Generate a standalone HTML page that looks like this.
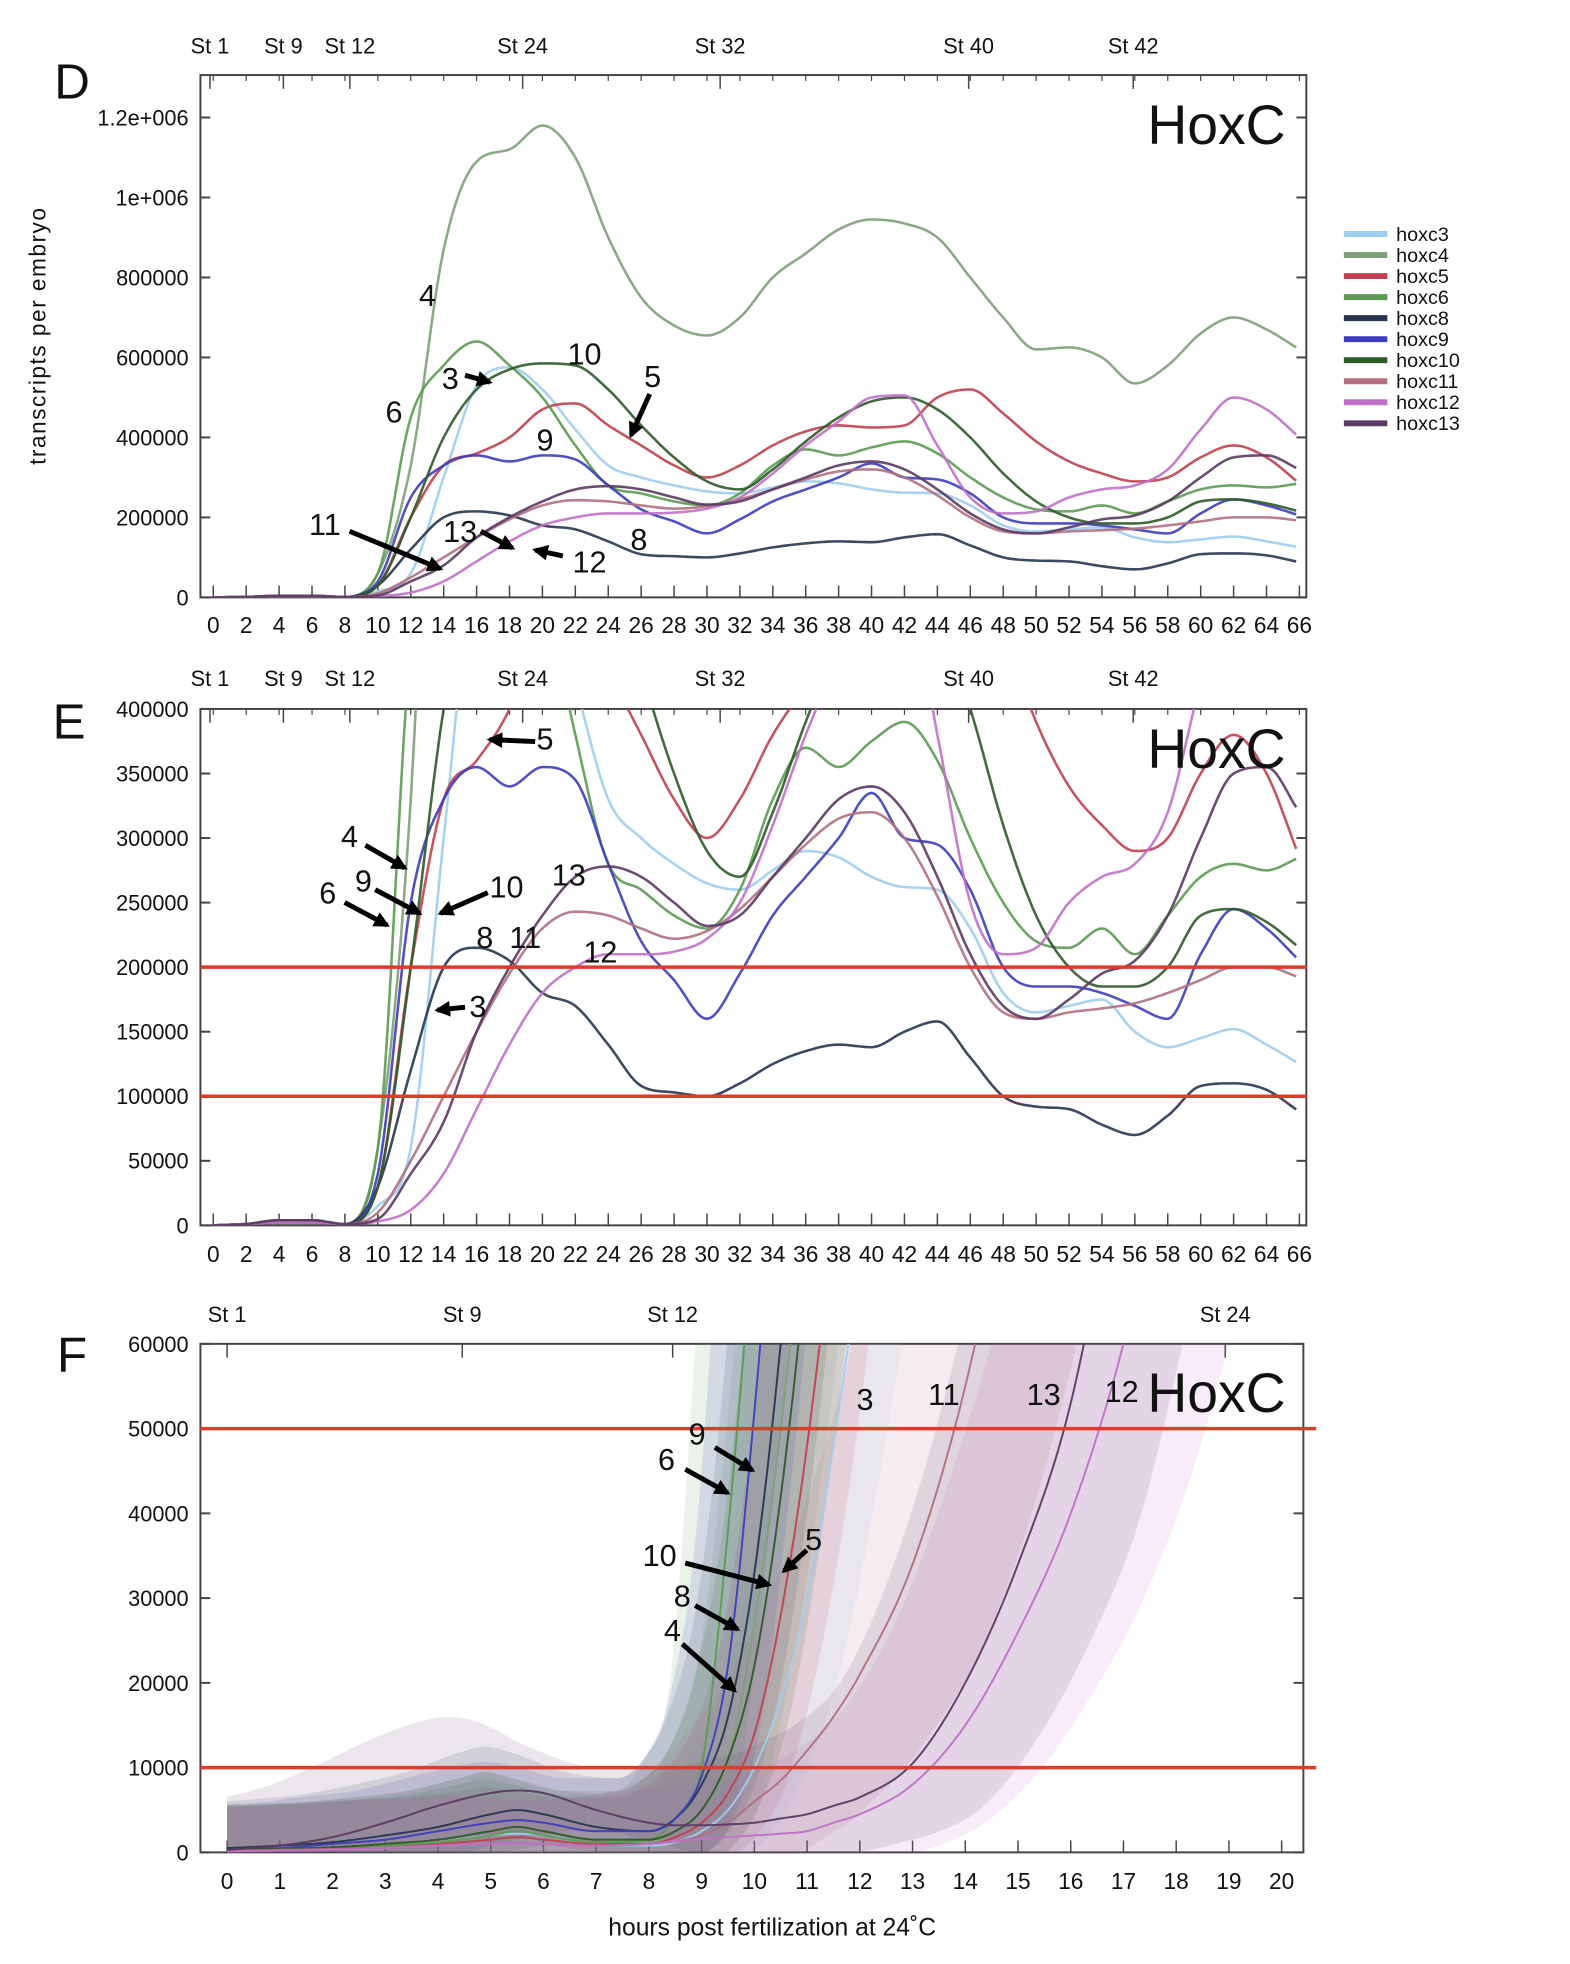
<!DOCTYPE html>
<html><head><meta charset="utf-8"><style>
html,body{margin:0;padding:0;background:#fff}
svg{display:block}
text{font-family:"Liberation Sans",sans-serif}
</style></head><body>
<svg id="fig" xmlns="http://www.w3.org/2000/svg" width="1570" height="1964" viewBox="0 0 1570 1964">
<defs>
<clipPath id="clipD"><rect x="203" y="76" width="1120" height="529"/></clipPath>
<clipPath id="clipE"><rect x="203" y="718" width="1120" height="523"/></clipPath>
<clipPath id="clipF"><rect x="203" y="1361" width="1117" height="515"/></clipPath>
<marker id="ah" viewBox="0 0 10 10" refX="8" refY="5" markerWidth="3.2" markerHeight="3.2" orient="auto"><path d="M0,0 L10,5 L0,10 z" fill="#000"/></marker>
</defs>
<g id="layer" transform="scale(0.9874)"></g>
</svg>
<script>
// ---------- data ----------
const seriesNames = ["hoxc3","hoxc4","hoxc5","hoxc6","hoxc8","hoxc9","hoxc10","hoxc11","hoxc12","hoxc13"];
const seriesColors = ["#9fcdee","#7fa07a","#c0404f","#5c9a52","#27364f","#3d3dbf","#2f5a2a","#b07080","#c070c8","#5a3a62"];
const hours = [0,2,4,6,8,10,12,14,16,18,20,22,24,26,28,30,32,34,36,38,40,42,44,46,48,50,52,54,56,58,60,62,64,66];
// transcripts per embryo (thousands)
const hoxc3  = [0,1,2,2,1,15,60,300,530,575,520,420,330,300,280,265,260,275,290,285,270,262,260,230,180,165,170,175,150,138,145,152,140,125];
const hoxc4  = [0,1,3,3,1,60,330,870,1090,1120,1180,1100,900,750,680,655,700,800,860,920,945,935,900,800,700,620,625,600,535,580,660,700,670,620];
const hoxc5  = [0,1,2,2,1,30,200,330,360,400,470,485,430,380,330,300,330,380,415,430,425,430,500,520,460,390,340,310,290,300,350,380,350,285];
const hoxc6  = [0,1,3,3,1,60,450,580,640,580,500,380,280,260,240,230,260,330,370,355,375,390,360,300,250,220,215,230,210,240,270,280,275,285];
const hoxc8  = [0,1,4,4,1,30,120,200,215,205,180,170,140,108,103,100,110,125,135,140,138,150,158,130,100,92,90,78,70,85,108,110,105,88];
const hoxc9  = [0,1,3,4,1,40,250,330,355,340,355,345,280,220,190,160,195,240,270,300,335,300,295,260,200,185,185,180,170,160,210,245,230,205];
const hoxc10 = [0,1,2,2,1,30,200,400,520,570,585,580,520,430,350,290,270,320,390,450,490,500,470,400,310,240,200,185,185,200,240,245,235,215];
const hoxc11 = [0,1,3,3,1,10,50,100,150,195,230,243,240,230,222,228,245,270,295,315,320,300,255,200,165,160,165,168,172,180,190,200,200,192];
const hoxc12 = [0,1,2,2,1,3,12,40,90,140,180,200,210,210,212,222,250,310,380,440,500,505,380,250,210,215,250,270,280,320,420,500,470,400];
const hoxc13 = [0,1,4,4,1,5,40,80,150,200,240,270,278,270,250,232,240,270,300,330,340,320,270,210,170,160,175,195,205,240,300,350,355,320];
const dSeries = [hoxc3,hoxc4,hoxc5,hoxc6,hoxc8,hoxc9,hoxc10,hoxc11,hoxc12,hoxc13];

const fHours = [0,1,2,3,4,5,5.5,6,7,8,8.5,9,9.5,10,10.5,11,11.5,12,13,14,15,16,17,18,19,20];
const f3  = [0.2,0.3,0.5,0.8,1.2,2,2.2,2,1,0.8,1.2,2.5,5,10,18,30,48,70,120,200,300,400,500,600,700,800];
const f4  = [0.3,0.4,0.6,1,1.5,2.5,3,2.5,1.5,1.2,2.5,5,11,27,50,80,120,160,250,350,450,550,650,750,850,950];
const f5  = [0.2,0.3,0.5,0.8,1,1.5,1.8,1.5,1,1,1.8,3.5,7,14,28,48,75,110,180,260,350,450,550,650,750,850];
const f6  = [0.5,0.5,0.6,0.8,1.2,2,2.5,2,1.2,1.5,4,10,38,75,120,170,220,270,370,470,570,670,770,870,970,1070];
const f8  = [0.5,0.8,1.2,2,3,4.5,5,4.5,3,2.5,4,8,16,33,60,95,135,175,275,375,475,575,675,775,875,975];
const f9  = [0.3,0.5,1,1.5,2.5,3.5,3.8,3.5,2.5,2.5,4,9,22,52,90,135,180,225,325,425,525,625,725,825,925,1025];
const f10 = [0.3,0.4,0.6,1,1.5,2.5,3,2.5,1.5,1.5,2.5,5,11,22,42,70,105,145,240,340,440,540,640,740,840,940];
const f11 = [0.2,0.3,0.4,0.5,0.8,1,1.1,1,0.8,1,1.3,2,3.5,6,8.5,12,16,21,34,55,85,120,160,200,240,280];
const f12 = [0.1,0.2,0.3,0.5,0.8,1,1.1,1,0.8,1,1.3,1.6,1.8,2,2.2,2.5,3.5,4.5,8,15,26,40,60,88,120,160];
const f13 = [0.3,0.8,1.8,3.5,5.5,7,7.3,7,5,3.5,3.2,3.2,3.3,3.5,4,4.5,5.5,6.5,10.5,20,34,53,85,120,160,200];
const fSeries = [f3,f4,f5,f6,f8,f9,f10,f11,f12,f13];

const dTicksY = ["0","200000","400000","600000","800000","1e+006","1.2e+006"];
const eTicksY = ["0","50000","100000","150000","200000","250000","300000","350000","400000"];
const fTicksY = ["0","10000","20000","30000","40000","50000","60000"];
const stagesDE = ["St 1","St 9","St 12","St 24","St 32","St 40","St 42"];
const stageHoursDE = [-0.2,4.26,8.3,18.8,30.8,45.9,55.9];
const stagesF = ["St 1","St 9","St 12","St 24"];
const stageHoursF = [0,4.46,8.45,18.93];
const eThresholds = [100,200];
const fThresholds = [10,50];

// ---------- helpers ----------
const NS="http://www.w3.org/2000/svg";
const layer=document.getElementById('layer');
function mk(tag,attrs,parent){const e=document.createElementNS(NS,tag);for(const k in attrs)e.setAttribute(k,attrs[k]);(parent||layer).appendChild(e);return e;}
function monotone(xs,ys){
  const n=xs.length,d=[],m=new Array(n);
  for(let i=0;i<n-1;i++)d.push((ys[i+1]-ys[i])/(xs[i+1]-xs[i]));
  m[0]=d[0];m[n-1]=d[n-2];
  for(let i=1;i<n-1;i++){m[i]=(d[i-1]*d[i]<=0)?0:(d[i-1]+d[i])/2;}
  for(let i=0;i<n-1;i++){if(d[i]===0){m[i]=0;m[i+1]=0;continue;}const a=m[i]/d[i],b=m[i+1]/d[i],s=a*a+b*b;if(s>9){const t=3/Math.sqrt(s);m[i]=t*a*d[i];m[i+1]=t*b*d[i];}}
  return function(x){
    if(x<=xs[0])return ys[0]; if(x>=xs[n-1])return ys[n-1];
    let i=0;while(x>xs[i+1])i++;
    const h=xs[i+1]-xs[i],t=(x-xs[i])/h,t2=t*t,t3=t2*t;
    return (2*t3-3*t2+1)*ys[i]+(t3-2*t2+t)*h*m[i]+(-2*t3+3*t2)*ys[i+1]+(t3-t2)*h*m[i+1];
  };
}
function txt(x,y,s,size,anchor,parent,name){const t=mk('text',{x:x,y:y,'font-size':size,'text-anchor':anchor||'middle',fill:'#111'},parent);t.textContent=s;


return t;}

function panel(cfg){
  const g=mk('g',{});
  
  
  const X=h=>cfg.x0+(h-cfg.h0)*(cfg.x1-cfg.x0)/(cfg.h1-cfg.h0);
  const Y=v=>cfg.yb-(v/cfg.vmax)*(cfg.yb-cfg.yt);
  const fr=mk('rect',{x:cfg.bx0,y:cfg.yt,width:cfg.bx1-cfg.bx0,height:cfg.yb-cfg.yt,fill:'none',stroke:'#444','stroke-width':2},g);
  
  
  cfg.yTicks.forEach((s,i)=>{
    const v=i*cfg.tickStep;const y=Y(v);
    mk('line',{x1:cfg.bx0,x2:cfg.bx0+10,y1:y,y2:y,stroke:'#444','stroke-width':2},g);
    mk('line',{x1:cfg.bx1,x2:cfg.bx1-10,y1:y,y2:y,stroke:'#444','stroke-width':2},g);
    txt(cfg.bx0-12,y+8,s,22,'end',g,'y-tick-label');
  });
  for(let h=cfg.h0;h<=cfg.h1+1e-6;h+=cfg.hstep){
    const x=X(h);
    mk('line',{x1:x,x2:x,y1:cfg.yb,y2:cfg.yb-12,stroke:'#444','stroke-width':1.5},g);
    txt(x,cfg.labY,String(h),23,'middle',g,'x-tick-label');
  }
  for(let h=cfg.h0;h<=cfg.h1+1e-6;h+=cfg.hstep){
    const x=X(h);mk('line',{x1:x,x2:x,y1:cfg.yt,y2:cfg.yt+(cfg.topMinor?6:0),stroke:'#444','stroke-width':1.2},g);
  }
  cfg.stages.forEach((s,i)=>{const x=X(cfg.stageH[i]);
    mk('line',{x1:x,x2:x,y1:cfg.yt,y2:cfg.yt+14,stroke:'#444','stroke-width':1.5},g);
    txt(x,cfg.stageY,s,22,'middle',g,'stage-label');});
  return {g,X,Y};
}

// ---------- panel D ----------
const D=panel({name:'panel-d',bx0:203,bx1:1323,x0:216,x1:1316,h0:0,h1:66,hstep:2,yt:76,yb:605,vmax:1200*529/486,tickStep:200,yTicks:dTicksY,labY:641,stageY:54,stages:stagesDE,stageH:stageHoursDE,topMinor:true});
const dClip=mk('g',{'clip-path':'url(#clipD)'});


dSeries.forEach((s,si)=>{
  const f=monotone(hours,s);let d='';
  for(let h=0;h<=66;h+=0.2){d+=(h===0?'M':'L')+D.X(h).toFixed(1)+','+D.Y(f(h)).toFixed(1);}
  const p=mk('path',{d:d,fill:'none',stroke:seriesColors[si],'stroke-width':2.6,'stroke-opacity':0.9},dClip);
  
  
});
const leg=mk('g',{});


seriesNames.forEach((n,i)=>{
  const y=237+i*21.3;
  const l=mk('line',{x1:1361,x2:1405,y1:y,y2:y,stroke:seriesColors[i],'stroke-width':6},leg);
  
  
  txt(1414,y+7,n,20,'start',leg,'legend-entry-'+n);
});

// ---------- panel E ----------
const E=panel({name:'panel-e',bx0:203,bx1:1323,x0:216,x1:1316,h0:0,h1:66,hstep:2,yt:718,yb:1241,vmax:400,tickStep:50,yTicks:eTicksY,labY:1278,stageY:695,stages:stagesDE,stageH:stageHoursDE,topMinor:true});
const eClip=mk('g',{'clip-path':'url(#clipE)'});


dSeries.forEach((s,si)=>{
  const f=monotone(hours,s);let d='';
  for(let h=0;h<=66;h+=0.2){d+=(h===0?'M':'L')+E.X(h).toFixed(1)+','+E.Y(Math.min(f(h),460)).toFixed(1);}
  const p=mk('path',{d:d,fill:'none',stroke:seriesColors[si],'stroke-width':2.6,'stroke-opacity':0.9},eClip);
  
  
});
eThresholds.forEach(v=>{const l=mk('line',{x1:203,x2:1323,y1:E.Y(v),y2:E.Y(v),stroke:'#e03a2a','stroke-width':3.5});

});

// ---------- panel F ----------
const F=panel({name:'panel-f',bx0:203,bx1:1320,x0:230,x1:1298,h0:0,h1:20,hstep:1,yt:1361,yb:1876,vmax:60,tickStep:10,yTicks:fTicksY,labY:1913,stageY:1339,stages:stagesF,stageH:stageHoursF,topMinor:false});
const fClip=mk('g',{'clip-path':'url(#clipF)'});


fSeries.forEach((s,si)=>{
  const f=monotone(fHours,s);
  const sh=si>=7?1.3:0.6;
  let up='',lo='';const pts=[];
  for(let h=0;h<=20;h+=0.1){pts.push(h);}
  pts.forEach((h,i)=>{up+=(i===0?'M':'L')+F.X(h).toFixed(1)+','+F.Y(Math.min(f(h+sh)*1.5+5,70)).toFixed(1);});
  pts.slice().reverse().forEach(h=>{lo+='L'+F.X(h).toFixed(1)+','+F.Y(Math.min(Math.max(0,(f(h-sh)-4)*0.8),70)).toFixed(1);});
  const b=mk('path',{d:up+lo+'Z',fill:seriesColors[si],'fill-opacity':0.13,stroke:'none'},fClip);
  
  
});
fSeries.forEach((s,si)=>{
  const f=monotone(fHours,s);let d='';
  for(let h=0;h<=20;h+=0.05){d+=(h===0?'M':'L')+F.X(h).toFixed(1)+','+F.Y(Math.min(f(h),70)).toFixed(1);}
  const p=mk('path',{d:d,fill:'none',stroke:seriesColors[si],'stroke-width':2,'stroke-opacity':0.95},fClip);
  
  
});
fThresholds.forEach(v=>{const l=mk('line',{x1:203,x2:1333,y1:F.Y(v),y2:F.Y(v),stroke:'#e03a2a','stroke-width':3.5});

});

// ---------- annotations ----------
txt(73,100,'D',50,'middle',null,'panel-letter-d');
txt(70,748,'E',50,'middle',null,'panel-letter-e');
txt(73,1389,'F',50,'middle',null,'panel-letter-f');
txt(1232,146,'HoxC',56,'middle',null,'title-d');
txt(1232,778,'HoxC',56,'middle',null,'title-e');
txt(1232,1430,'HoxC',56,'middle',null,'title-f');
const yl=txt(0,0,'transcripts per embryo',23,'middle',null,'y-axis-title');
yl.setAttribute('transform','translate(46,340) rotate(-90)');yl.setAttribute('letter-spacing','1.5');
txt(782,1960,'hours post fertilization at 24˚C',25,'middle',null,'x-axis-title');
const labels=[
 ['4',433,310],['6',399,428],['3',456,394],['10',592,369],['5',661,392],['9',552,456],['11',329,542],['13',466,549],['12',597,580],['8',647,557],
 ['5',552,759],['4',354,858],['6',332,915],['9',368,903],['10',513,909],['13',576,897],['8',491,960],['11',532,960],['12',608,975],['3',484,1030],
 ['3',876,1428],['11',956,1423],['13',1057,1423],['12',1136,1420],['9',706,1463],['6',675,1489],['10',668,1586],['5',824,1570],['8',691,1627],['4',681,1662]];
labels.forEach(l=>txt(l[1],l[2],l[0],31,'middle',null,'curve-number-label'));
const arrows=[[471,380,496,387],[658,399,639,441],[354,538,446,576],[487,538,519,555],[570,563,542,557],
 [542,751,496,749],[370,856,410,879],[349,914,392,937],[380,901,425,925],[494,904,446,925],[471,1020,443,1023],
 [724,1466,762,1489],[694,1488,737,1512],[694,1583,779,1605],[817,1570,794,1591],[704,1626,747,1650],[691,1665,744,1712]];
arrows.forEach(a=>{const l=mk('line',{x1:a[0],y1:a[1],x2:a[2],y2:a[3],stroke:'#000','stroke-width':5,'marker-end':'url(#ah)'});

});
</script>
</body></html>
